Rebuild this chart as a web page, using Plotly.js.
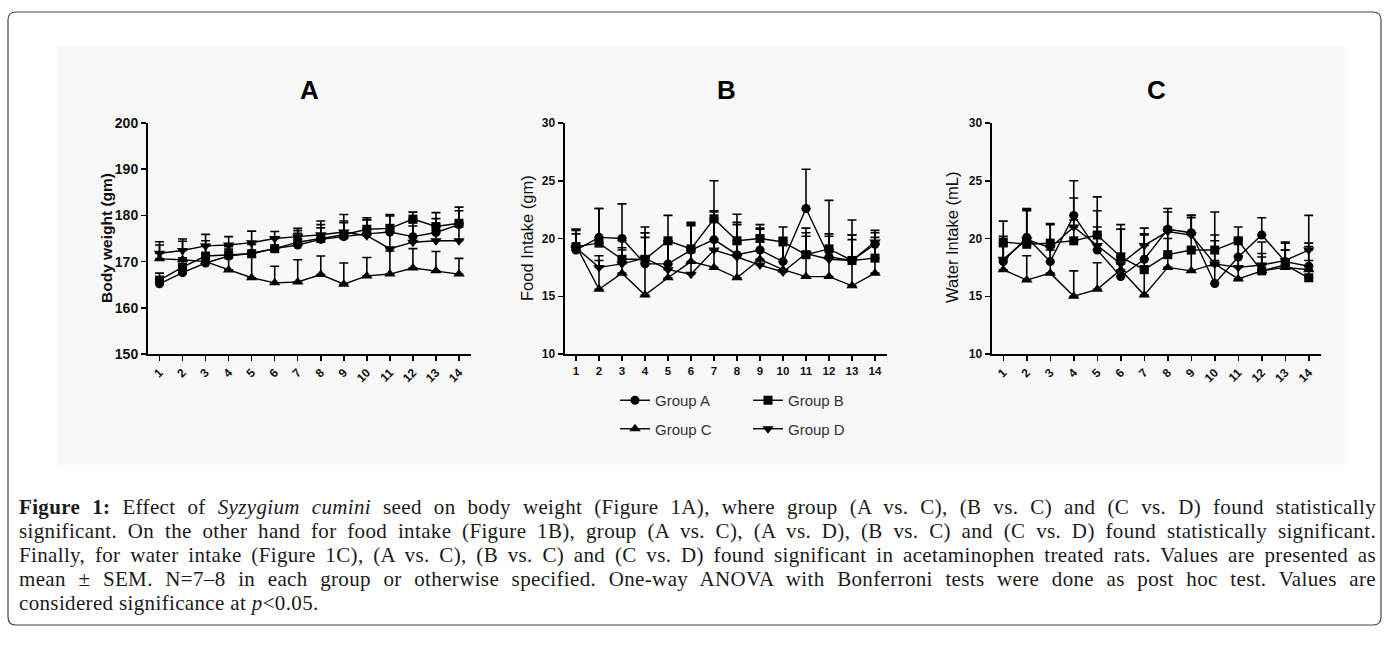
<!DOCTYPE html>
<html><head><meta charset="utf-8">
<script src="https://cdn.plot.ly/plotly-3.0.1.min.js"></script>
<style>html,body{margin:0;padding:0;background:#fff;} #chart{width:1389px;height:663px;}</style>
</head><body><div id="chart"></div>
<script>
// ---------- data ----------
const days = [1,2,3,4,5,6,7,8,9,10,11,12,13,14];
const dayLabels = ['1','2','3','4','5','6','7','8','9','10','11','12','13','14'];
const groupNames = ['Group A','Group B','Group C','Group D'];

// Panel A: body weight (gm)
const bwA = [165.2,167.6,169.7,171.2,171.8,172.8,173.6,174.8,175.4,176.0,176.4,175.4,176.3,178.0];
const bwB = [166.0,168.8,171.2,171.5,171.7,172.8,174.2,175.0,175.8,177.0,177.2,179.2,177.6,178.3];
const bwC = [170.6,170.4,170.0,168.2,166.5,165.4,165.6,167.2,165.1,166.9,167.3,168.6,168.0,167.3];
const bwD = [171.8,172.4,173.4,173.6,174.1,175.0,175.4,175.8,176.4,175.6,172.8,174.2,174.5,174.5];
const bwErrA = [1.2,1.5,1.8,2.0,2.5,2.5,2.5,2.5,3.0,3.0,3.5,3.0,3.0,3.0];
const bwErrB = [1.5,2.0,2.5,2.0,2.0,2.5,2.5,3.0,3.0,2.5,3.0,1.5,3.0,3.5];
const bwErrC = [3.0,4.0,4.5,4.5,4.5,3.6,4.8,4.0,4.6,4.0,5.0,4.2,4.2,3.4];
const bwErrD = [2.5,2.5,2.5,1.8,2.5,1.5,1.8,3.0,3.8,3.5,4.0,3.5,3.5,3.8];

// Panel B: food intake (gm)
const fiA = [19.0,20.1,20.0,17.8,17.8,19.0,19.9,18.6,19.0,18.0,22.6,18.4,18.1,19.5];
const fiB = [19.3,19.6,18.2,18.2,19.8,19.1,21.7,19.8,20.0,19.7,18.6,19.1,18.1,18.3];
const fiC = [19.4,15.6,17.0,15.1,16.6,18.0,17.5,16.6,18.2,17.3,16.7,16.7,15.9,17.0];
const fiD = [19.2,17.5,17.8,18.3,17.3,16.9,19.0,18.4,17.7,17.1,18.7,18.2,18.1,19.7];
const fiErrA = [1.7,2.5,3.0,2.7,2.0,2.2,2.5,2.6,1.8,2.0,3.4,2.0,2.2,1.0];
const fiErrB = [1.5,3.0,1.0,2.8,2.2,2.3,3.3,2.3,1.2,1.3,2.3,4.2,3.5,1.8];
const fiErrC = [1.0,2.5,2.0,5.0,3.0,3.3,4.0,3.0,2.0,2.5,3.5,2.3,4.0,2.5];
const fiErrD = [1.6,1.0,2.0,2.2,2.5,4.2,3.3,3.0,3.2,3.0,1.8,2.0,2.2,1.0];

// Panel C: water intake (mL)
const wiA = [18.0,20.1,18.0,22.0,19.0,16.7,18.2,20.8,20.5,16.1,18.4,20.3,18.0,17.6];
const wiB = [19.7,19.5,19.6,19.8,20.3,18.4,17.3,18.6,19.0,19.0,19.8,17.2,17.7,16.6];
const wiC = [17.3,16.4,17.0,15.0,15.6,17.3,15.1,17.5,17.2,17.8,16.5,17.2,17.5,17.3];
const wiD = [18.2,19.9,19.2,21.0,19.4,17.8,19.4,20.6,20.3,17.8,17.5,17.7,18.1,19.0];
const wiErrA = [1.5,2.5,1.5,3.0,2.0,2.0,2.2,1.5,1.5,2.0,1.5,1.5,1.0,2.0];
const wiErrB = [1.8,3.0,1.7,1.8,3.3,2.8,3.0,2.4,3.0,3.3,1.2,1.2,2.0,1.5];
const wiErrC = [2.0,2.1,2.0,2.2,2.3,3.5,2.5,2.5,2.0,2.5,2.0,1.5,1.5,2.0];
const wiErrD = [2.0,2.5,2.0,2.5,3.0,3.0,1.5,2.0,1.5,2.0,2.5,2.0,1.5,3.0];

const panelTitles = ['A','B','C'];
const yTitles = ['Body weight (gm)','Food Intake (gm)','Water Intake (mL)'];
const captionLines = [
  '<b>Figure 1:</b> Effect of <i>Syzygium cumini</i> seed on body weight (Figure 1A), where group (A vs. C), (B vs. C) and (C vs. D) found statistically',
  'significant. On the other hand for food intake (Figure 1B), group (A vs. C), (A vs. D), (B vs. C) and (C vs. D) found statistically significant.',
  'Finally, for water intake (Figure 1C), (A vs. C), (B vs. C) and (C vs. D) found significant in acetaminophen treated rats. Values are presented as',
  'mean ± SEM. N=7–8 in each group or otherwise specified. One-way ANOVA with Bonferroni tests were done as post hoc test. Values are',
  'considered significance at <i>p</i>&lt;0.05.'
];

// ---------- layout helpers ----------
const W = 1389, H = 663;
const fx = x => x / W;
const fy = y => 1 - y / H;
const FONT = 'Liberation Sans, Arial, sans-serif';
const SERIF = 'Liberation Serif, Times New Roman, serif';

const symbols = ['circle','square','triangle-up','triangle-down'];
const sizes = [9,9,10,10];
const panels = [
  {vals:[bwA,bwB,bwC,bwD], errs:[bwErrA,bwErrB,bwErrC,bwErrD], xa:'x', ya:'y'},
  {vals:[fiA,fiB,fiC,fiD], errs:[fiErrA,fiErrB,fiErrC,fiErrD], xa:'x2', ya:'y2'},
  {vals:[wiA,wiB,wiC,wiD], errs:[wiErrA,wiErrB,wiErrC,wiErrD], xa:'x3', ya:'y3'}
];
const zeros = days.map(() => 0);
const legendFor = ['legend','legend2','legend','legend2'];

const data = [];
panels.forEach((p, pi) => {
  p.vals.forEach((v, gi) => {
    data.push({
      type:'scatter', mode:'lines+markers', x: days, y: v,
      xaxis: p.xa, yaxis: p.ya, name: groupNames[gi],
      line:{color:'#000', width:1.4},
      marker:{symbol:symbols[gi], size:sizes[gi], color:'#000'},
      error_y:{type:'data', symmetric:false, array:p.errs[gi], arrayminus:zeros, color:'#000', thickness:1.6, width:4.5},
      cliponaxis:false,
      showlegend: pi === 1,
      legend: legendFor[gi],
      legendgroup: 'g' + gi
    });
  });
});

function xAxis(l, r, angle, fsize) {
  return {
    domain:[fx(l), fx(r)], range:[0.5,14.5], showline:true, linecolor:'#000', linewidth:2,
    ticks:'outside', ticklen:5, tickwidth:1.5, tickcolor:'#000',
    tickvals: days, ticktext: dayLabels, tickangle: angle,
    tickfont:{family:FONT, size:fsize, color:'#111', weight:'bold'},
    showgrid:false, zeroline:false, fixedrange:true
  };
}
function yAxis(top, bottom, range, dtick, fsize, anchor) {
  return {
    domain:[fy(bottom), fy(top)], range: range, dtick: dtick, tick0: range[0],
    showline:true, linecolor:'#000', linewidth:2,
    ticks:'outside', ticklen:5, tickwidth:1.5, tickcolor:'#000',
    tickfont:{family:FONT, size:fsize, color:'#111', weight:'bold'},
    showgrid:false, zeroline:false, fixedrange:true, anchor: anchor
  };
}

const annotations = [];
const titleX = [309, 726, 1156];
panelTitles.forEach((t, i) => annotations.push({
  text: t, xref:'paper', yref:'paper', x: fx(titleX[i]), y: fy(90),
  showarrow:false, xanchor:'center', yanchor:'middle',
  font:{family:FONT, size:26, color:'#000', weight:'bold'}
}));
const ytX = [106, 527, 952];
const ytW = ['bold','normal','normal'];
const ytS = [15.5, 16.5, 16.5];
yTitles.forEach((t, i) => annotations.push({
  text: t, xref:'paper', yref:'paper', x: fx(ytX[i]), y: fy(238), textangle:-90,
  showarrow:false, xanchor:'center', yanchor:'middle',
  font:{family:FONT, size:ytS[i], color:'#111', weight:ytW[i]}
}));
const capStart = annotations.length;
const capY = [507, 531, 555, 579, 603];
captionLines.forEach((t, i) => annotations.push({
  text: t, xref:'paper', yref:'paper', x: fx(17), y: fy(capY[i]),
  showarrow:false, xanchor:'left', yanchor:'middle', align:'left',
  font:{family:SERIF, size:21, color:'#1a1a1a'}
}));

// rounded frame path in paper coords
function roundRect(x0, y0, x1, y1, r) {
  const rx = r / W, ry = r / H;
  const X0 = fx(x0), X1 = fx(x1), Y0 = fy(y0), Y1 = fy(y1);
  return `M${X0+rx},${Y0} L${X1-rx},${Y0} Q${X1},${Y0} ${X1},${Y0-ry} L${X1},${Y1+ry} Q${X1},${Y1} ${X1-rx},${Y1} L${X0+rx},${Y1} Q${X0},${Y1} ${X0},${Y1+ry} L${X0},${Y0-ry} Q${X0},${Y0} ${X0+rx},${Y0} Z`;
}

const layout = {
  width: W, height: H, margin:{l:0, r:0, t:0, b:0},
  paper_bgcolor:'#fff', plot_bgcolor:'rgba(0,0,0,0)',
  showlegend:true, hovermode:false,
  xaxis: xAxis(148, 470.5, -45, 12),
  yaxis: yAxis(123, 354, [150,200], 10, 14, 'x'),
  xaxis2: xAxis(564.5, 886.5, 0, 11.5),
  yaxis2: yAxis(123, 354, [10,30], 5, 12, 'x2'),
  xaxis3: xAxis(991.5, 1320.5, -45, 12),
  yaxis3: yAxis(123, 354, [10,30], 5, 12, 'x3'),
  legend: {x: fx(615), y: fy(384), xanchor:'left', yanchor:'top', bgcolor:'rgba(0,0,0,0)',
           font:{family:FONT, size:15, color:'#333'}, traceorder:'grouped', tracegroupgap:6},
  legend2: {x: fx(748), y: fy(384), xanchor:'left', yanchor:'top', bgcolor:'rgba(0,0,0,0)',
           font:{family:FONT, size:15, color:'#333'}, traceorder:'grouped', tracegroupgap:6},
  annotations: annotations,
  shapes: [
    {type:'rect', xref:'paper', yref:'paper', x0:fx(58), x1:fx(1345), y0:fy(465), y1:fy(46),
     fillcolor:'#f8f8f8', line:{width:0}, layer:'below'},
    {type:'path', xref:'paper', yref:'paper', path: roundRect(8, 12, 1381, 625, 8),
     line:{color:'#444', width:1.2}, fillcolor:'rgba(0,0,0,0)', layer:'below'}
  ]
};

const gd = document.getElementById('chart');
Plotly.newPlot(gd, data, layout, {displayModeBar:false, staticPlot:true}).then(() => {
  const target = 1374 - 17;
  gd.querySelectorAll('g.annotation').forEach(g => {
    const idx = +g.getAttribute('data-index');
    if (idx >= capStart && idx < capStart + 5) {
      const t = g.querySelector('text.annotation-text');
      if (!t) return;
      const b0 = t.getBBox();
      t.style.letterSpacing = '0.35px';
      if (idx < capStart + 4) {
        const len = t.getComputedTextLength();
        const nsp = (t.textContent.match(/ /g) || []).length;
        if (nsp > 0) t.style.wordSpacing = ((target - len) / nsp) + 'px';
      }
      const b1 = t.getBBox();
      const dx = b0.x - b1.x;
      if (Math.abs(dx) > 0.5) {
        const cx = parseFloat(t.getAttribute('x') || '0');
        t.setAttribute('x', cx + dx);
      }
    }
  });
});
</script></body></html>
